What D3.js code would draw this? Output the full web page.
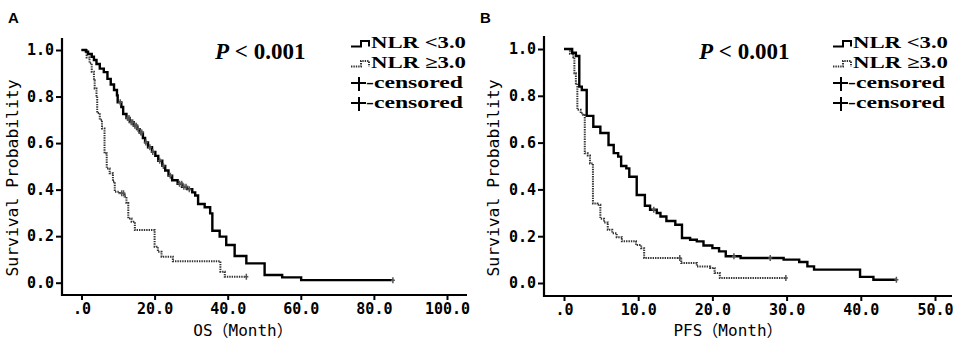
<!DOCTYPE html>
<html>
<head>
<meta charset="utf-8">
<script src="https://cdn.jsdelivr.net/npm/d3@7"></script>
<style>
  body { margin: 0; background: #fff; }
  svg { display: block; }
</style>
</head>
<body>
<svg width="957" height="341"></svg>
<script>
// Panel A: overall survival, NLR < 3.0
const osLowT = [0, 1.2, 1.8, 2.8, 3.4, 4.1, 5.0, 6.1, 7.1, 8.0, 8.9, 9.7, 9.9, 10.9, 11.4, 12.3, 13.2, 14.3, 15.2, 15.9, 16.8, 17.4, 18.2, 19.3, 20.2, 21.0, 22.1, 22.9, 23.8, 24.8, 26.3, 27.5, 28.9, 30.3, 31.1, 31.9, 33.7, 35.2, 35.8, 37.8, 39.6, 41.9, 45.1, 50.1, 54.9, 60.1, 85.2]
const osLowS = [1.0, 0.993, 0.983, 0.971, 0.957, 0.94, 0.92, 0.905, 0.876, 0.852, 0.828, 0.805, 0.775, 0.755, 0.725, 0.708, 0.69, 0.675, 0.66, 0.645, 0.622, 0.603, 0.582, 0.562, 0.545, 0.524, 0.502, 0.482, 0.46, 0.44, 0.425, 0.412, 0.402, 0.388, 0.375, 0.338, 0.324, 0.298, 0.223, 0.198, 0.162, 0.115, 0.083, 0.033, 0.023, 0.011, 0.011]
const osLowCensored = [10.6, 12.6, 13.0, 13.6, 14.0, 14.6, 15.0, 15.5, 16.2, 16.5, 17.6, 18.7, 19.5, 21.4, 22.4, 24.3, 26.8, 27.4, 28.0, 28.6, 29.5, 85.2]

// Panel A: overall survival, NLR >= 3.0
const osHighT = [0, 1.4, 2.2, 2.8, 3.4, 3.6, 4.1, 4.3, 5.0, 5.6, 6.3, 6.9, 7.7, 8.6, 9.1, 10.4, 11.8, 12.3, 12.8, 13.7, 14.6, 20.0, 20.9, 21.9, 25.0, 38.0, 39.2, 45.1]
const osHighS = [1.0, 0.968, 0.943, 0.907, 0.87, 0.835, 0.80, 0.729, 0.70, 0.663, 0.556, 0.491, 0.47, 0.434, 0.391, 0.384, 0.37, 0.342, 0.276, 0.262, 0.226, 0.155, 0.133, 0.112, 0.092, 0.047, 0.026, 0.026]
const osHighCensored = [11.0, 11.5, 45.1]

// Panel B: progression-free survival, NLR < 3.0
const pfsLowT = [0, 1.1, 1.6, 2.06, 2.4, 3.06, 3.95, 4.9, 6.0, 6.7, 7.3, 7.7, 8.4, 8.8, 9.8, 10.9, 11.6, 12.5, 13.0, 13.8, 15.0, 15.9, 17.0, 17.9, 18.8, 20.0, 20.9, 21.8, 23.8, 29.6, 31.7, 32.8, 33.7, 39.9, 41.7, 44.8]
const pfsLowS = [1.0, 0.984, 0.97, 0.839, 0.825, 0.714, 0.668, 0.641, 0.59, 0.555, 0.54, 0.50, 0.49, 0.454, 0.376, 0.33, 0.313, 0.299, 0.284, 0.265, 0.249, 0.192, 0.185, 0.178, 0.16, 0.149, 0.135, 0.114, 0.107, 0.10, 0.09, 0.071, 0.057, 0.026, 0.014, 0.014]
const pfsLowCensored = [12.1, 22.9, 27.8, 44.8]

// Panel B: progression-free survival, NLR >= 3.0
const pfsHighT = [0, 0.8, 1.25, 1.4, 1.6, 1.8, 2.25, 2.6, 2.8, 3.2, 3.5, 3.9, 4.5, 4.9, 5.4, 5.9, 6.5, 7.1, 7.8, 9.7, 10.4, 10.8, 15.8, 17.9, 19.7, 20.3, 21.0, 29.9]
const pfsHighS = [1.0, 0.98, 0.965, 0.896, 0.853, 0.74, 0.725, 0.718, 0.554, 0.545, 0.511, 0.34, 0.334, 0.275, 0.259, 0.228, 0.213, 0.196, 0.178, 0.162, 0.149, 0.107, 0.085, 0.071, 0.064, 0.043, 0.021, 0.021]
const pfsHighCensored = [15.6, 29.9]

const yTicks = [0, 0.2, 0.4, 0.6, 0.8, 1.0]
const legendLabels = ['NLR <3.0', 'NLR \u22653.0', '-censored', '-censored']
const pLabel = ['P', ' < 0.001']

const panels = [
  {
    label: 'A', xTitle: 'OS', xMax: 100, xTicks: [0, 20, 40, 60, 80, 100],
    left: 62, bottom: 295, top: 38, right: 467,
    xRange: [81.5, 447], yRange: [282.7, 50],
    labelX: 8, yTitleX: 18, xTitleX: 243, pX: 215, legendX: 348,
    low: [osLowT, osLowS, osLowCensored], high: [osHighT, osHighS, osHighCensored]
  },
  {
    label: 'B', xTitle: 'PFS', xMax: 50, xTicks: [0, 10, 20, 30, 40, 50],
    left: 544, bottom: 296, top: 36, right: 952,
    xRange: [564, 935], yRange: [283, 49],
    labelX: 480, yTitleX: 499, xTitleX: 728, pX: 699, legendX: 830,
    low: [pfsLowT, pfsLowS, pfsLowCensored], high: [pfsHighT, pfsHighS, pfsHighCensored]
  }
]

const svg = d3.select('svg')
svg.append('rect').attr('width', 957).attr('height', 341).attr('fill', '#fff')

const tickFont = '"DejaVu Sans Mono", monospace'
const cjkFont = '"Noto Sans CJK SC", sans-serif'
const serif = '"Liberation Serif", "Times New Roman", serif'

panels.forEach(p => {
  const g = svg.append('g')
  const x = d3.scaleLinear().domain([0, p.xMax]).range(p.xRange)
  const y = d3.scaleLinear().domain([0, 1]).range(p.yRange)

  g.append('text').
    attr('x', p.labelX).attr('y', 23).
    attr('font-family', 'Liberation Sans, Arial, sans-serif').
    attr('font-weight', 'bold').attr('font-size', 15).
    text(p.label)

  // axes
  const xAxis = g.append('g').
    attr('transform', `translate(0,${p.bottom})`).
    call(d3.axisBottom(x).tickValues(p.xTicks).tickSize(5).tickSizeOuter(0).
      tickFormat(d => d === 0 ? '.0' : d.toFixed(1)))
  const yAxis = g.append('g').
    attr('transform', `translate(${p.left},0)`).
    call(d3.axisLeft(y).tickValues(yTicks).tickSize(6).tickPadding(2).tickSizeOuter(0).
      tickFormat(d => d.toFixed(1)))

  ;[xAxis, yAxis].forEach(a => {
    a.select('.domain').remove()
    a.selectAll('.tick line').attr('stroke', '#000').attr('stroke-width', 2)
    a.selectAll('.tick text').
      attr('fill', '#000').
      attr('font-family', tickFont).
      attr('font-weight', 'bold').
      attr('font-size', 15)
  })

  g.append('path').
    attr('d', `M${p.left},${p.top}V${p.bottom}H${p.right}`).
    attr('fill', 'none').attr('stroke', '#000').attr('stroke-width', 2.2)

  // axis titles
  g.append('text').
    attr('transform', `translate(${p.yTitleX},178) rotate(-90)`).
    attr('text-anchor', 'middle').
    attr('font-family', tickFont).attr('font-size', 16).
    attr('textLength', 197).attr('lengthAdjust', 'spacingAndGlyphs').
    text('Survival Probability')

  const xt = g.append('text').
    attr('x', p.xTitleX).attr('y', 336).
    attr('text-anchor', 'middle').
    attr('font-family', tickFont).attr('font-size', 16)
  xt.append('tspan').text(p.xTitle)
  xt.append('tspan').attr('font-family', cjkFont).text('\uFF08')
  xt.append('tspan').text('Month')
  xt.append('tspan').attr('font-family', cjkFont).text('\uFF09')

  // survival curves
  const line = d3.line().
    x(d => x(d[0])).
    y(d => y(d[1])).
    curve(d3.curveStepAfter)

  const stepAt = (ts, ss, t) => ss[d3.bisectRight(ts, t) - 1]

  const drawCurve = ([ts, ss, cens], dotted) => {
    const pts = ts.map((t, i) => [t, ss[i]])
    g.append('path').
      datum(pts).
      attr('d', line).
      attr('fill', 'none').
      attr('stroke', dotted ? '#333' : '#000').
      attr('stroke-width', dotted ? 2 : 2.4).
      attr('stroke-dasharray', dotted ? '1.4,1' : null)

    g.selectAll(null).data(cens).
      enter().append('path').
      attr('d', t => {
        const cx = x(t), cy = y(stepAt(ts, ss, t))
        return `M${cx},${cy - 3}V${cy + 3}M${cx - 2},${cy}H${cx + 2}`
      }).
      attr('stroke', '#555').attr('stroke-width', 1.5)
  }
  drawCurve(p.high, true)
  drawCurve(p.low, false)

  // p value
  const pt = g.append('text').
    attr('x', p.pX).attr('y', 59).
    attr('font-family', serif).attr('font-weight', 'bold').attr('font-size', 23)
  pt.append('tspan').attr('font-style', 'italic').text(pLabel[0])
  pt.append('tspan').text(pLabel[1])

  // legend
  const lx = p.legendX
  const rows = [48, 68, 88, 108]
  g.append('path').
    attr('d', `M${lx + 3},${rows[0] - 1.5}H${lx + 13}V${rows[0] - 7}H${lx + 21}V${rows[0] - 1.5}`).
    attr('fill', 'none').attr('stroke', '#000').attr('stroke-width', 2)
  g.append('path').
    attr('d', `M${lx + 3},${rows[1] - 1.5}H${lx + 13}V${rows[1] - 7}H${lx + 21}V${rows[1] - 1.5}`).
    attr('fill', 'none').attr('stroke', '#333').attr('stroke-width', 2).
    attr('stroke-dasharray', '1.4,1')
  ;[rows[2], rows[3]].forEach(r => {
    g.append('path').
      attr('d', `M${lx + 3},${r - 5}H${lx + 18}M${lx + 11},${r - 11}V${r + 3}`).
      attr('stroke', '#000').attr('stroke-width', 2)
  })

  g.selectAll(null).data(legendLabels).
    enter().append('text').
    attr('x', (d, i) => i < 2 ? lx + 23 : lx + 18).
    attr('y', (d, i) => rows[i]).
    attr('font-family', serif).attr('font-weight', 'bold').attr('font-size', 17).
    attr('textLength', (d, i) => i < 2 ? 95 : 97).
    attr('lengthAdjust', 'spacingAndGlyphs').
    text(d => d)
})
</script>
</body>
</html>
